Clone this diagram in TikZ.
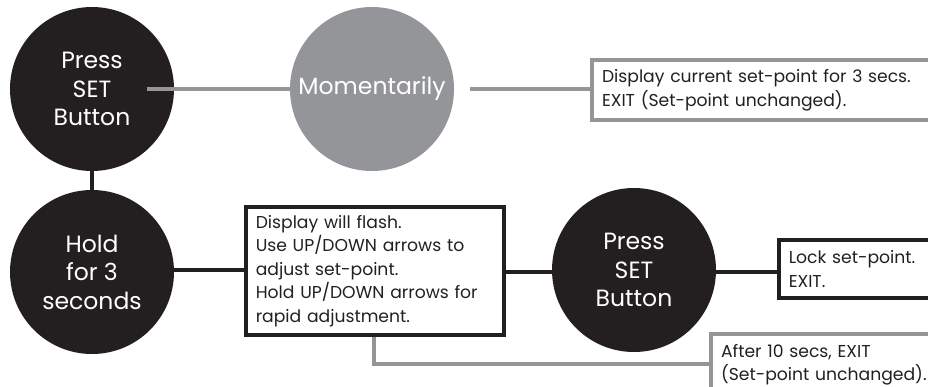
\documentclass[tikz,border=0pt]{standalone}
\usepackage{fontspec}
\setmainfont{Poppins}
\definecolor{ink}{HTML}{231F20}
\definecolor{grey}{HTML}{939598}
\begin{document}
\begin{tikzpicture}[x=1pt,y=-1pt,
  bigc/.style={circle,fill=ink,minimum size=164pt,inner sep=0pt,text=white,align=center,
    font=\fontsize{23.5}{28.5}\selectfont},
  greyc/.style={bigc,fill=grey},
  blk/.style={line width=3.5pt,draw=ink},
  gry/.style={line width=4pt,draw=grey},
  infobox/.style={line width=3.5pt,anchor=west,align=left,inner xsep=10pt,inner ysep=0pt,
    text=ink,font=\fontsize{17.2}{23.5}\selectfont},
]
\useasboundingbox (0,0) rectangle (928,386);
% circles
\node[bigc] (press1) at (92,89) {Press\\SET\\Button};
\node[greyc] (mom) at (372,89) {Momentarily};
\node[bigc] (hold) at (92,272) {Hold\\for 3\\seconds};
\node[bigc] (press2) at (634,270) {Press\\SET\\Button};
% boxes
\node[infobox,draw=grey,line width=4pt,minimum height=60pt,text width=400pt] (b1) at (590,90)
  {Display current set-point for 3 secs.\\EXIT (Set-point unchanged).};
\node[infobox,draw=ink,minimum height=128pt,text width=238pt] (b2) at (244,271)
  {Display will flash.\\Use UP/DOWN arrows to\\adjust set-point.\\Hold UP/DOWN arrows for\\rapid adjustment.};
\node[infobox,draw=ink,minimum height=58pt,text width=300pt] (b3) at (777,269)
  {Lock set-point.\\EXIT.};
\node[infobox,draw=grey,line width=4pt,anchor=north west,text width=300pt] (b4) at (709,332)
  {\rule{0pt}{23pt}After 10 secs, EXIT\\(Set-point unchanged).\rule[-20pt]{0pt}{20pt}};
% connectors
\coordinate (s1) at (147,89);
\coordinate (s2) at (470,89);
\draw[gry] (s1) -- (mom.west);
\draw[gry] (s2) -- (b1.west |- s2);
\draw[blk] (press1.south) -- (hold.north);
\draw[blk] (hold.east |- 0,270) -- (b2.west |- 0,270);
\draw[blk] (b2.east |- 0,272) -- (press2.west |- 0,272);
\draw[blk] (press2.east |- 0,272) -- (b3.west |- 0,272);
\coordinate (t1) at (374,335);
\draw[gry] (b2.south -| t1) -- (374,364) -- (b4.west |- 0,364);
\end{tikzpicture}
\end{document}
